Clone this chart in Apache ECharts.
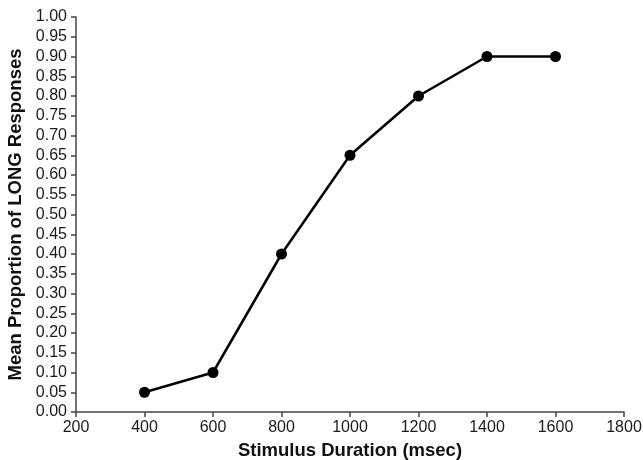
<!DOCTYPE html>
<html>
<head>
<meta charset="utf-8">
<script src="https://cdn.jsdelivr.net/npm/echarts@6/dist/echarts.min.js"></script>
<style>
  html, body { margin: 0; padding: 0; background: #fff; }
  #chart { width: 643px; height: 460px; }
</style>
</head>
<body>
<div id="chart"></div>
<script>
const durations = [400, 600, 800, 1000, 1200, 1400, 1600];
const proportions = [0.05, 0.10, 0.40, 0.65, 0.80, 0.90, 0.90];

const chart = echarts.init(document.getElementById('chart'));

const font = 'Liberation Sans, Arial, sans-serif';
const labelStyle = { color: '#1a1a1a', fontSize: 16, fontFamily: font };
const titleStyle = { fontSize: 18.5, fontWeight: 'bold', color: '#111', fontFamily: font };
const axisLine = { show: true, lineStyle: { color: '#444', width: 1.5 } };
const axisTick = { show: true, inside: false, length: 5, lineStyle: { color: '#444', width: 1.5 } };

chart.setOption({
  animation: false,
  grid: { left: 76, right: 19, top: 17, bottom: 48, containLabel: false, outerBoundsMode: 'none' },
  xAxis: {
    type: 'value',
    min: 200,
    max: 1800,
    interval: 200,
    name: 'Stimulus Duration (msec)',
    nameLocation: 'middle',
    nameGap: 29,
    nameTextStyle: titleStyle,
    axisLine: axisLine,
    axisTick: axisTick,
    axisLabel: Object.assign({ margin: 8, formatter: v => String(v) }, labelStyle),
    splitLine: { show: false }
  },
  yAxis: {
    type: 'value',
    min: 0,
    max: 1,
    interval: 0.05,
    name: 'Mean Proportion of LONG Responses',
    nameLocation: 'middle',
    nameGap: 43,
    nameTextStyle: titleStyle,
    axisLine: axisLine,
    axisTick: axisTick,
    axisLabel: Object.assign({ margin: 9, formatter: v => v.toFixed(2) }, labelStyle),
    splitLine: { show: false }
  },
  series: [{
    type: 'line',
    data: durations.map((d, i) => [d, proportions[i]]),
    symbol: 'circle',
    symbolSize: 11,
    lineStyle: { color: '#000', width: 2.5 },
    itemStyle: { color: '#000' }
  }]
});
</script>
</body>
</html>
